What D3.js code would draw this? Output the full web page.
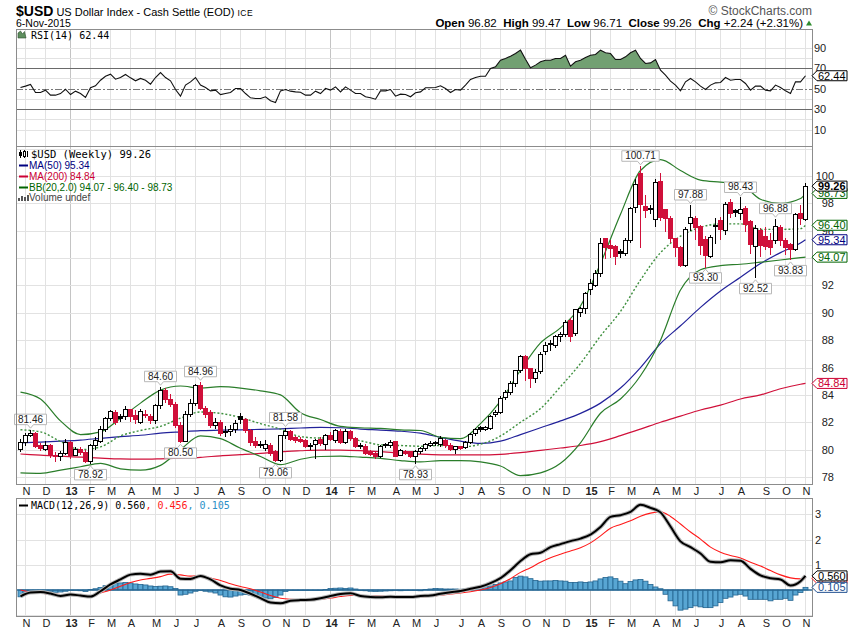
<!DOCTYPE html>
<html><head><meta charset="utf-8">
<script src="https://cdn.jsdelivr.net/npm/d3@7"></script>
<style>body{margin:0;background:#fff}svg{display:block}</style>
</head><body>
<svg id="c" width="850" height="633"></svg>
<script>
// ---------------- DATA ----------------
const firstWeek = "2012-10-29";   // weekly bars (Monday of each week)
const open = [80.0,80.5,81.0,81.2,80.3,80.0,80.3,79.6,79.5,79.75, 80.5,79.6,80.0,79.8,79.1,80.3,80.6,81.5,82.3,82.7,
 82.45,82.4,82.9,82.5,82.0,82.6,82.4,82.1,83.2,84.3, 83.7,83.3,81.8,80.6,82.6,83.4,84.7,83.0,82.7,81.8,
 82.0,81.25,81.35,81.45,82.4,82.2,81.4,80.6,80.4,80.1, 80.3,79.9,79.2,81.0,81.3,80.9,80.75,80.65,80.3,80.35,
 80.75,80.4,81.0,80.7,81.35,80.55,81.35,80.8,80.3,80.25, 79.9,79.7,79.5,80.3,80.3,80.6,79.6,79.9,79.85,79.5,
 79.85,80.05,80.3,80.55,80.4,80.65,80.3,80.0,80.2,80.15, 80.5,81.15,81.6,81.5,81.55,82.6,82.7,83.8,84.15,84.85,
 85.75,86.8,85.9,85.2,85.7,87.16,87.75,87.6,88.3,88.4, 89.45,88.5,90.0,90.3,91.7,92.0,92.9,95.45,94.9,94.85,
 94.45,94.3,95.3,97.7,100.2,97.75,97.65,96.8,99.6,97.55, 96.9,95.4,94.8,93.45,96.5,96.9,96.3,95.37,94.15,96.4,
 96.73,96.05,98.05,97.45,97.27,97.64,96.66,94.83,96.05,95.6, 95.3,95.3,96.25,95.3,94.96,94.64,97.27,96.82];
const high = [80.8,81.2,81.46,81.3,80.5,80.6,80.4,79.8,79.9,80.8, 80.6,80.2,80.2,80.0,80.4,80.9,81.7,82.4,82.9,82.9,
 82.6,83.2,83.0,82.9,83.0,82.9,82.6,83.3,84.6,84.5, 84.1,83.5,82.0,82.8,83.7,84.8,84.96,83.2,82.9,82.3,
 82.2,81.7,81.8,82.2,82.7,82.3,81.5,80.9,80.6,80.7, 80.5,80.0,81.1,81.58,81.45,81.0,80.9,80.8,80.5,80.75,
 80.9,81.15,81.3,81.5,81.5,81.5,81.45,80.95,80.45,80.4, 80.0,79.8,80.35,80.5,80.7,80.65,80.05,80.0,79.9,80.0,
 80.2,80.45,80.6,80.65,81.0,80.75,80.45,80.3,80.3,80.65, 81.2,81.6,81.75,81.75,82.5,82.9,83.9,84.35,85.0,85.85,
 86.9,86.9,86.0,85.9,87.1,87.9,88.0,88.4,88.6,89.45, 89.6,90.3,90.4,91.5,92.5,93.1,95.5,95.5,95.3,94.95,
 94.7,95.5,97.7,99.75,100.71,98.6,97.9,99.8,100.2,97.6, 97.1,95.5,94.9,96.3,97.88,97.1,96.4,95.6,95.7,96.9,
 97.0,98.1,98.3,97.6,98.43,97.8,96.8,96.4,96.2,96.3, 95.8,96.88,96.4,95.5,95.1,97.3,97.9,99.47];
const low = [79.8,80.3,80.9,80.1,79.9,79.9,79.4,79.1,79.2,79.6, 79.3,79.5,79.6,79.0,78.92,80.0,80.5,81.3,82.1,81.8,
 82.0,82.2,82.0,81.9,81.9,82.3,81.9,81.9,83.0,83.4, 83.1,81.6,80.5,80.55,82.4,83.2,82.9,82.3,81.6,81.5,
 81.0,80.9,81.0,81.2,81.9,81.2,80.3,80.1,80.1,79.9, 79.5,79.06,79.1,80.8,80.6,80.5,80.45,80.1,80.0,79.35,
 80.3,79.95,80.6,80.5,80.4,80.4,80.6,80.1,80.05,79.6, 79.5,79.35,79.4,80.1,80.15,79.45,79.5,79.6,79.4,78.93,
 79.7,79.9,80.2,80.25,80.2,80.15,79.9,79.7,79.95,80.05, 80.4,81.0,81.3,81.35,81.4,82.4,82.6,83.6,84.0,84.6,
 85.6,85.0,84.5,84.9,85.5,86.9,87.2,87.4,87.9,88.2, 87.9,88.3,89.7,89.9,91.3,91.9,92.6,93.9,94.0,93.5,
 94.0,94.15,95.1,97.3,94.75,96.9,97.2,96.3,96.7,95.9, 95.1,94.1,93.35,93.35,96.0,95.3,94.2,93.30,94.0,95.0,
 95.3,95.7,96.9,97.0,96.8,95.9,94.3,92.52,94.1,94.6, 94.2,95.0,94.9,94.2,93.83,94.5,96.4,96.71];
const close = [80.55,81.0,81.2,80.2,80.1,80.3,79.6,79.5,79.75,80.55, 79.6,80.0,79.8,79.1,80.3,80.7,81.5,82.3,82.8,82.0,
 82.3,82.9,82.4,82.2,82.8,82.5,82.1,83.2,84.3,83.7, 83.3,81.8,80.6,82.6,83.4,84.7,83.0,82.6,81.8,82.0,
 81.2,81.3,81.45,81.9,82.2,81.4,80.5,80.3,80.3,80.4, 79.7,79.2,81.0,81.35,80.75,80.65,80.6,80.25,80.27,80.65,
 80.45,81.0,80.75,81.4,80.55,81.35,80.8,80.2,80.25,79.75, 79.65,79.5,80.25,80.35,80.55,79.5,79.95,79.75,79.5,79.85,
 80.1,80.35,80.45,80.47,80.8,80.3,80.0,80.2,80.1,80.55, 81.1,81.45,81.5,81.6,82.4,82.75,83.75,84.15,84.85,85.75,
 86.8,85.95,85.2,85.65,86.95,87.64,87.65,88.3,88.45,89.3, 88.3,90.25,90.3,91.4,92.15,92.9,95.1,94.8,94.7,94.15,
 94.35,95.3,97.6,99.4,97.9,97.5,97.55,99.5,97.0,96.9, 95.4,94.8,93.45,96.1,97.0,96.25,94.95,94.22,95.52,96.3,
 96.1,97.9,97.27,97.35,97.56,96.49,94.96,96.17,94.9,94.85, 94.8,96.3,95.27,94.79,94.64,97.22,96.9,99.26];

// overlays read every 4 weeks (week index 0,4,...,156,157)
const bandWeeks = [0,4,8,12,16,20,24,28,32,36,40,44,48,52,56,60,64,68,72,76,80,84,88,92,96,100,104,108,112,116,120,124,128,132,136,140,144,148,152,156,157];
const bbUpper = [84.2,83.7,82.1,81.1,81.3,82.3,83.4,84.35,84.65,84.5, 84.6,84.5,84.3,84.0,82.7,82.2,81.7,81.6,81.55,81.45,
 81.4,80.9,80.8,81.9,83.55,85.8,87.8,88.9,90.5,93.6, 97.2,100.4,101.2,100.4,99.7,99.55,99.4,98.3,98.0,98.35,98.73];
const bbMid = [81.45,81.3,80.6,80.0,80.2,81.0,81.4,81.7,82.3,82.75, 82.65,82.35,81.9,81.5,80.95,80.85,80.9,80.65,80.35,80.3,
 80.25,80.3,80.2,80.4,81.0,82.0,83.0,84.6,86.3,88.3, 90.1,92.4,94.4,95.6,96.25,96.5,96.5,96.1,96.1,96.15,96.40];
const bbLower = [78.3,78.27,78.5,78.75,79.0,78.6,78.5,78.85,80.0,81.0, 80.8,80.1,79.5,78.9,79.3,79.5,79.53,79.45,79.36,79.2,
 79.1,79.2,79.2,79.1,78.8,78.1,78.3,79.0,80.5,82.66, 83.7,85.4,88.0,91.67,93.15,93.45,93.55,93.7,93.86,94.03,94.07];
const ma50 = [80.5,80.55,80.62,80.7,80.83,80.95,81.05,81.2,81.3,81.39, 81.42,81.45,81.48,81.52,81.58,81.62,81.6,81.5,81.43,81.35,
 81.2,80.9,80.62,80.46,80.62,81.1,81.6,82.1,82.65,83.4, 84.5,86.0,87.75,89.05,90.4,91.6,92.6,93.6,94.4,95.1,95.34];
const ma200 = [79.68,79.6,79.52,79.45,79.38,79.32,79.3,79.33,79.38,79.44, 79.55,79.63,79.72,79.85,79.92,79.97,79.97,79.93,79.85,79.75,
 79.67,79.62,79.61,79.61,79.66,79.78,79.95,80.12,80.3,80.58, 81.02,81.5,82.0,82.45,82.9,83.25,83.7,84.0,84.45,84.78,84.84];

// RSI(14), weekly
const rsi = [51.0,52.3,53.9,46.1,46.1,48.4,43.5,43.5,45.0,49.3, 44.1,47.4,45.1,41.2,50.7,52.6,58.1,62.0,64.0,59.1,
 60.7,63.7,60.4,57.5,59.8,58.1,54.2,60.7,65.6,60.7, 57.5,49.0,42.5,53.3,56.5,60.7,53.3,51.0,47.7,48.4,
 44.1,45.1,46.1,50.0,50.0,45.1,40.9,40.2,40.2,41.9, 38.0,36.3,47.7,49.0,47.4,46.7,46.4,43.5,43.5,47.4,
 45.1,50.0,48.4,51.6,46.7,51.6,48.4,45.1,45.1,41.9, 40.9,39.6,47.7,47.7,49.0,42.5,44.5,44.1,41.9,45.8,
 46.7,50.7,50.7,51.0,52.6,50.0,46.1,49.0,48.4,53.3, 58.8,60.7,62.0,62.0,69.5,71.1,77.6,79.3,81.5,84.1,
 87.4,78.5,70.2,72.8,76.0,77.6,77.6,79.3,79.3,82.5, 71.8,76.0,77.6,80.2,82.5,83.2,87.4,84.8,84.1,78.3,
 78.3,80.9,84.8,87.4,79.3,74.4,75.0,78.3,67.9,63.0, 57.2,53.3,47.7,56.5,59.8,56.5,52.3,49.0,53.3,55.5,
 55.9,60.7,58.1,58.8,58.8,54.9,48.4,52.3,52.3,48.4, 47.7,53.3,51.0,47.7,45.1,56.5,56.5,62.44];

// MACD(12,26,9): lines read every 2 weeks (0,2,...,156,157), histogram weekly
const macdLine = [-0.25,-0.1,-0.08,-0.14,-0.24,-0.18,-0.22,-0.26,-0.05,0.22, 0.42,0.61,0.64,0.61,0.73,0.74,0.45,0.44,0.56,0.42,
 0.18,0.05,0.0,-0.15,-0.32,-0.5,-0.53,-0.43,-0.4,-0.39, -0.33,-0.24,-0.16,-0.13,-0.24,-0.28,-0.29,-0.27,-0.28,-0.28,
 -0.24,-0.22,-0.15,-0.09,-0.04,0.05,0.13,0.27,0.47,0.78, 1.15,1.42,1.48,1.7,1.82,1.94,2.04,2.2,2.5,2.9,
 2.97,3.1,3.38,3.26,3.08,2.52,1.93,1.7,1.45,1.12, 1.1,1.18,1.16,0.84,0.58,0.47,0.42,0.18,0.35,0.56];
const signalLine = [0.0,-0.08,-0.12,-0.16,-0.18,-0.2,-0.22,-0.24,-0.12,0.0, 0.15,0.3,0.4,0.46,0.53,0.63,0.6,0.55,0.57,0.47,
 0.38,0.25,0.14,0.05,-0.08,-0.22,-0.33,-0.37,-0.38,-0.37, -0.37,-0.32,-0.26,-0.22,-0.22,-0.23,-0.24,-0.25,-0.26,-0.27,
 -0.27,-0.25,-0.2,-0.16,-0.12,-0.07,0.0,0.1,0.25,0.45, 0.7,0.88,1.1,1.28,1.42,1.55,1.68,1.87,2.15,2.45,
 2.6,2.75,2.93,3.05,3.1,2.92,2.62,2.3,2.02,1.7, 1.5,1.37,1.27,1.1,0.95,0.77,0.6,0.48,0.44,0.456];
const macdHist = [-0.27,-0.15,-0.03,-0.02,-0.03,-0.05,-0.07,-0.09,-0.08,-0.05, -0.01,-0.02,-0.03,-0.06,0.02,0.05,0.10,0.17,0.22,0.26,
 0.28,0.30,0.28,0.24,0.22,0.20,0.16,0.14,0.15,0.16, 0.13,0.06,-0.20,-0.17,-0.12,-0.05,0.0,-0.05,-0.08,-0.12,
 -0.20,-0.27,-0.28,-0.24,-0.20,-0.18,-0.20,-0.24,-0.25,-0.32, -0.35,-0.30,-0.20,-0.06,-0.02,-0.02,-0.02,-0.02,-0.01,-0.01,
 0.0,0.02,0.06,0.07,0.08,0.06,0.08,0.04,0.0,-0.03, -0.05,-0.06,-0.05,-0.04,-0.03,-0.02,-0.03,-0.02,-0.02,-0.02,
 -0.03,0.02,0.04,0.06,0.05,0.04,0.04,0.04,0.03,0.04, 0.08,0.10,0.12,0.14,0.16,0.22,0.28,0.32,0.36,0.50,
 0.55,0.52,0.45,0.38,0.35,0.36,0.36,0.38,0.36,0.35, 0.30,0.30,0.32,0.30,0.32,0.36,0.44,0.50,0.52,0.45,
 0.35,0.25,0.34,0.40,0.42,0.35,0.22,0.12,0.05,-0.17, -0.43,-0.63,-0.80,-0.76,-0.70,-0.63,-0.67,-0.70,-0.70,-0.63,
 -0.50,-0.33,-0.28,-0.20,-0.17,-0.24,-0.37,-0.37,-0.37,-0.37, -0.43,-0.37,-0.37,-0.33,-0.41,-0.20,-0.10,0.105];

// swing labels
const swingWeek = [2,14,28,32,36,51,53,79,124,134,137,144,147,151,154];
const swingValue = [81.46,78.92,84.60,80.50,84.96,79.06,81.58,78.93,100.71,97.88,93.30,98.43,92.52,96.88,93.83];
const swingAbove = [1,0,1,0,1,0,1,0,1,1,0,1,0,1,0];
// axis labels visible in the reference (94 and 0 sit under value tags)
const priceTicks = [78,80,82,84,86,88,90,92,96,98,100];
const rsiTicks = [10,30,50,70,90];
const macdTicks = [1,2,3];
const monthLetters = ["J","F","M","A","M","J","J","A","S","O","N","D"];

// ---------------- LAYOUT ----------------
const svg = d3.select("#c");
const L = 16, R = 812;
const P = {rsi:[29,146], main:[146,484], macd:[498,616]};
const FONT = "'Liberation Sans', Arial, sans-serif";
const MONO = "'DejaVu Sans Mono', monospace";
const N = open.length;
const x = d3.scaleLinear().domain([0, N-1]).range([20, 20 + 5*(N-1)]);
const yP = d3.scaleLinear().domain([78,100]).range([477,176]);
const yR = d3.scaleLinear().domain([10,90]).range([129.5,47.5]);
const yM = d3.scaleLinear().domain([0,3]).range([590,514.4]);

const start = d3.timeParse("%Y-%m-%d")(firstWeek);
const dates = d3.range(N).map(i => d3.timeDay.offset(start, 7*i));
const monthIdx = d3.range(1, N).filter(i => dates[i].getMonth() !== dates[i-1].getMonth());

const defs = svg.append("defs");
function clip(id, top, bot){ defs.append("clipPath").attr("id", id).append("rect").attr("x", L).attr("y", top).attr("width", R-L).attr("height", bot-top); }
clip("cR", P.rsi[0], P.rsi[1]); clip("cM", P.main[0], P.main[1]); clip("cD", P.macd[0], P.macd[1]);
defs.append("clipPath").attr("id","cOB").append("rect").attr("x",L).attr("y",P.rsi[0]).attr("width",R-L).attr("height",yR(70)-P.rsi[0]);

const cr = v => Math.round(v) + 0.5;
function grid(top, bot, hVals, yS){
  const g = svg.append("g").attr("shape-rendering","crispEdges");
  monthIdx.forEach(i => {
    const yr = dates[i].getMonth() === 0;
    g.append("line").attr("x1", x(i)+0.5).attr("x2", x(i)+0.5).attr("y1", top).attr("y2", bot)
      .attr("stroke", yr ? "#c4c4c4" : "#e2e2e2");
  });
  hVals.forEach(v => g.append("line").attr("x1", L).attr("x2", R).attr("y1", cr(yS(v))).attr("y2", cr(yS(v))).attr("stroke", "#e2e2e2"));
}
grid(P.rsi[0], P.rsi[1], [20,40,60,80,90,10], yR);
grid(P.main[0], P.main[1], d3.range(78,103,2), yP);
grid(P.macd[0], P.macd[1], [-1,1,2,3], yM);

// ---------------- HEADER ----------------
const h1 = svg.append("text").attr("x", 16).attr("y", 16).style("font-family", FONT).attr("fill", "#000");
h1.append("tspan").text("$USD").style("font-weight", "bold").style("font-size", "14px");
h1.append("tspan").text(" US Dollar Index - Cash Settle (EOD) ").style("font-size", "11px");
h1.append("tspan").text("ICE").style("font-size", "8.5px").attr("letter-spacing", "0.6");
svg.append("text").attr("x", 16).attr("y", 27).text("6-Nov-2015").style("font", "10.5px " + FONT);
svg.append("text").attr("x", 812).attr("y", 15).attr("text-anchor", "end").text("\u00A9 StockCharts.com")
  .style("font", "12px " + FONT).attr("fill", "#555");
const ohlc = svg.append("text").attr("x", 803).attr("y", 27).attr("text-anchor", "end").style("font-family", FONT).style("font-size", "11.5px");
[["Open"," 96.82  "],["High"," 99.47  "],["Low"," 96.71  "],["Close"," 99.26  "],["Chg"," +2.24 (+2.31%)"]].forEach(([a,b]) => {
  ohlc.append("tspan").text(a).style("font-weight","bold"); ohlc.append("tspan").text(b).attr("xml:space","preserve");
});
ohlc.attr("xml:space","preserve");
svg.append("path").attr("d","M806,25.5 L812,25.5 L809,20.5 Z").attr("fill","#2e8b2e");

// ---------------- RSI PANEL ----------------
const rsiPts = rsi.map((v,i) => [x(i)+0.5, yR(v)]);
svg.append("path").attr("clip-path","url(#cOB)")
  .attr("d", d3.area().x(d=>d[0]).y0(yR(70)).y1(d=>d[1])(rsiPts)).attr("fill","#72a072");
[70,30].forEach(v => svg.append("line").attr("x1",L).attr("x2",R).attr("y1",cr(yR(v))).attr("y2",cr(yR(v))).attr("stroke","#6a6a6a").attr("shape-rendering","crispEdges"));
svg.append("line").attr("x1",L).attr("x2",R).attr("y1",cr(yR(50))).attr("y2",cr(yR(50))).attr("stroke","#777").attr("stroke-dasharray","7,2,2,2").attr("shape-rendering","crispEdges");
svg.append("path").attr("clip-path","url(#cR)").attr("d", d3.line()(rsiPts)).attr("fill","none").attr("stroke","#111").attr("stroke-width",1.1);
// RSI legend
svg.append("path").attr("d","M18,38 L18,33 L20.5,31 L22.5,34 L24.5,31.5 L26,38 Z").attr("fill","#5e8f5e").attr("stroke","#2b4f2b").attr("stroke-width",0.6);
svg.append("text").attr("x",31).attr("y",39).text("RSI(14) 62.44").style("font","10px " + MONO).attr("fill","#000");
const axR = svg.append("g").attr("transform","translate(814,0)").call(d3.axisRight(yR).tickValues(rsiTicks).tickSize(0).tickPadding(0));

// ---------------- MAIN PANEL ----------------
const gM = svg.append("g").attr("clip-path","url(#cM)");
const bandX = i => x(i)+0.5;
function overlay(vals, color, width, dash){
  const p = gM.append("path").attr("d", d3.line().x((d,k)=>bandX(bandWeeks[k])).y(d=>yP(d)).curve(d3.curveMonotoneX)(vals))
    .attr("fill","none").attr("stroke",color).attr("stroke-width",width);
  if (dash) p.attr("stroke-dasharray", dash);
}
overlay(ma200, "#d0103a", 1.2);
overlay(ma50, "#22229a", 1.2);
overlay(bbUpper, "#2a7d2a", 1.2);
overlay(bbLower, "#2a7d2a", 1.2);
overlay(bbMid, "#3d8f3d", 1.4, "2,2");

const gC = gM.append("g").attr("shape-rendering","crispEdges");
for (let i = 0; i < N; i++) {
  const prev = i > 0 ? close[i-1] : open[i];
  const col = close[i] >= prev ? "#000" : "#d0103a";
  const hollow = close[i] > open[i];
  const cx = x(i);
  gC.append("line").attr("x1",cx+0.5).attr("x2",cx+0.5).attr("y1",yP(high[i])).attr("y2",yP(low[i])).attr("stroke",col);
  const t = yP(Math.max(open[i],close[i])), b = yP(Math.min(open[i],close[i]));
  gC.append("rect").attr("x",cx-1.5).attr("y",t).attr("width",3.5).attr("height",Math.max(b-t,1))
    .attr("fill", hollow ? "#fff" : col).attr("stroke", col);
}
// swing labels
swingWeek.forEach((i,k) => {
  const v = swingValue[k], up = swingAbove[k] === 1, cx = x(i)+0.5, yy = yP(v);
  const txt = v.toFixed(2), w = txt.length*5.4 + 5, h = 10.5;
  let d;
  if (up) { const b = yy-5, t = b-h; d = `M${cx-w/2},${t}H${cx+w/2}V${b}H${cx+3}L${cx},${b+3.5}L${cx-3},${b}H${cx-w/2}Z`;
    svg.append("path").attr("d",d).attr("fill","#fff").attr("stroke","#b8b8b8");
    svg.append("text").attr("x",cx).attr("y",b-2).attr("text-anchor","middle").text(txt).style("font","10px "+FONT).attr("fill","#222");
  } else { const t = yy+5, b = t+h; d = `M${cx-w/2},${t}H${cx-3}L${cx},${t-3.5}L${cx+3},${t}H${cx+w/2}V${b}H${cx-w/2}Z`;
    svg.append("path").attr("d",d).attr("fill","#fff").attr("stroke","#b8b8b8");
    svg.append("text").attr("x",cx).attr("y",b-2).attr("text-anchor","middle").text(txt).style("font","10px "+FONT).attr("fill","#222");
  }
});
// main legend
const lg = svg.append("g");
lg.append("line").attr("x1",20.5).attr("x2",20.5).attr("y1",150).attr("y2",158).attr("stroke","#000");
lg.append("rect").attr("x",19).attr("y",152).attr("width",3).attr("height",4).attr("fill","#000");
lg.append("line").attr("x1",24.5).attr("x2",24.5).attr("y1",150).attr("y2",158).attr("stroke","#000");
lg.append("rect").attr("x",23.5).attr("y",151.5).attr("width",2).attr("height",5).attr("fill","#fff").attr("stroke","#000");
lg.append("line").attr("x1",27.5).attr("x2",27.5).attr("y1",151).attr("y2",157).attr("stroke","#000");
lg.append("text").attr("x",31).attr("y",158).text("$USD (Weekly) 99.26").style("font","10.5px "+MONO).attr("fill","#000");
[["MA(50) 95.34","#000080",169],["MA(200) 84.84","#cc0033",180],["BB(20,2.0) 94.07 - 96.40 - 98.73","#006400",191]].forEach(([t,c,yy]) => {
  lg.append("line").attr("x1",19).attr("x2",28).attr("y1",yy-3.5).attr("y2",yy-3.5).attr("stroke",c).attr("stroke-width",2);
  lg.append("text").attr("x",29).attr("y",yy).text(t).style("font","10px "+FONT).attr("fill",c);
});
[[18,3],[21,5],[24,4],[27,6]].forEach(([bx,bh]) => lg.append("rect").attr("x",bx).attr("y",201-bh).attr("width",2).attr("height",bh).attr("fill","#555"));
lg.append("text").attr("x",29).attr("y",201).text("Volume undef").style("font","10px "+FONT).attr("fill","#444");
const axP = svg.append("g").attr("transform","translate(834,0)").call(d3.axisRight(yP).tickValues(priceTicks).tickSize(0).tickPadding(0).tickFormat(d3.format("d")));
axP.selectAll("text").attr("text-anchor","end");

// ---------------- MACD PANEL ----------------
const gD = svg.append("g").attr("clip-path","url(#cD)");
gD.selectAll("rect.h").data(macdHist).enter().append("rect")
  .attr("x",(d,i)=>x(i)-2).attr("width",5)
  .attr("y",d=>Math.min(yM(d),yM(0))).attr("height",d=>Math.max(Math.abs(yM(d)-yM(0)),0.5))
  .attr("fill","#58a6d3").attr("stroke","#24648f").attr("stroke-width",0.8);
gD.append("line").attr("x1",L).attr("x2",R).attr("y1",yM(0)).attr("y2",yM(0)).attr("stroke","#2a6a96").attr("stroke-width",1.3);
const macdWeeks = d3.range(0, N-1, 2).concat([N-1]);
const mline = d3.line().x((d,k)=>x(macdWeeks[k])+0.5).y(d=>yM(d)).curve(d3.curveMonotoneX);
gD.append("path").attr("d",mline(signalLine)).attr("fill","none").attr("stroke","#ff1a1a").attr("stroke-width",1.1);
gD.append("path").attr("d",mline(macdLine)).attr("fill","none").attr("stroke","#b5b5b5").attr("stroke-width",4);
gD.append("path").attr("d",mline(macdLine)).attr("fill","none").attr("stroke","#000").attr("stroke-width",2);
svg.append("line").attr("x1",19).attr("x2",28).attr("y1",505.5).attr("y2",505.5).attr("stroke","#000").attr("stroke-width",2);
const ml = svg.append("text").attr("x",31).attr("y",509).style("font","10px "+MONO);
ml.append("tspan").text("MACD(12,26,9) 0.560").attr("fill","#000");
ml.append("tspan").text(", 0.456").attr("fill","#ff1a1a");
ml.append("tspan").text(", 0.105").attr("fill","#2a8fc8");
const axM = svg.append("g").attr("transform","translate(815,0)").call(d3.axisRight(yM).tickValues(macdTicks).tickSize(0).tickPadding(0).tickFormat(d3.format("d")));

// ---------------- X AXES ----------------
function xAxis(yPos){
  const g = svg.append("g").attr("transform",`translate(1,${yPos})`)
    .call(d3.axisBottom(x).tickValues(monthIdx).tickSize(0).tickPadding(0)
      .tickFormat(i => dates[i].getMonth()===0 ? d3.timeFormat("%y")(dates[i]) : monthLetters[dates[i].getMonth()]));
  g.select(".domain").remove();
  g.selectAll("text").attr("y",0).attr("dy","0.35em").style("font","11px "+FONT).attr("fill","#222")
    .style("font-weight", i => dates[i].getMonth()===0 ? "bold" : "normal");
}
xAxis(491.5); xAxis(623);
[axR, axP, axM].forEach(a => { a.select(".domain").remove(); a.selectAll("text").style("font","11px "+FONT).attr("fill","#222"); });

// ---------------- PANEL BORDERS ----------------
Object.values(P).forEach(([t,b]) => svg.append("rect").attr("x",L+0.5).attr("y",t+0.5).attr("width",R-L).attr("height",b-t)
  .attr("fill","none").attr("stroke","#8c8c8c").attr("shape-rendering","crispEdges"));

// ---------------- VALUE TAGS ----------------
function tag(yy, txt, stroke, fill, bold){
  const g = svg.append("g");
  g.append("path").attr("d",`M812,${yy} L817,${yy-5} L847,${yy-5} L847,${yy+5} L817,${yy+5} Z`).attr("fill","#fff").attr("stroke",stroke);
  g.append("text").attr("x",818).attr("y",yy+4).text(txt).attr("fill",fill).style("font",(bold?"bold ":"")+"11px "+FONT);
}
tag(yR(62.44), "62.44", "#000", "#000");
tag(yP(84.84), "84.84", "#cc0033", "#cc0033");
tag(yP(94.07), "94.07", "#006400", "#006400");
tag(yP(95.34), "95.34", "#000080", "#000080");
tag(yP(96.40), "96.40", "#006400", "#006400");
tag(yP(98.73), "98.73", "#006400", "#006400");
tag(yP(99.26), "99.26", "#000", "#000", true);
tag(yM(0.456), "0.456", "#ff1a1a", "#ff1a1a");
tag(yM(0.105), "0.105", "#1f4f8f", "#1f4f8f");
tag(yM(0.56), "0.560", "#000", "#000");
</script>
</body></html>
